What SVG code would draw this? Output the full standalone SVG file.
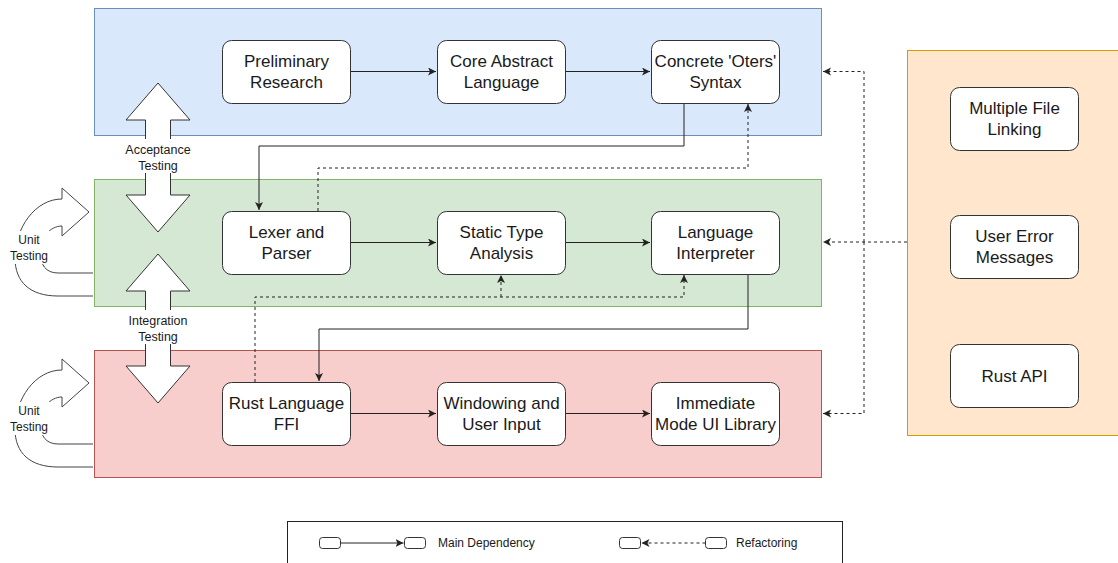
<svg xmlns="http://www.w3.org/2000/svg" width="1118" height="563" viewBox="0 0 1118 563">
<style>
.t{font-family:"Liberation Sans",Arial,sans-serif;fill:#1a1a1a;text-anchor:middle}
.n{font-size:17px}
.s{font-size:12.5px}
.node{fill:#fff;stroke:#333;stroke-width:1}
.e{fill:none;stroke:#222;stroke-width:1}
.d{fill:none;stroke:#222;stroke-width:1;stroke-dasharray:3 3}
.big{fill:#fff;stroke:#333;stroke-width:1}
.bg{fill:#fff}
</style>
<defs>
<marker id="a" markerUnits="userSpaceOnUse" markerWidth="10" markerHeight="10" refX="8" refY="4" orient="auto">
<path d="M0,0 L8,4 L0,8 L2,4 z" fill="#222"/>
</marker>
<path id="uturn" d="M93 296 L58 296 C30 296 15 282 15 258 C15 228 35 199 62 199 L62 188 L89 212 L62 236 L62 226 C50 226 40 238 40 251 C40 265 46 273 58 273 L93 273" fill="#fff" stroke="#444" stroke-width="1"/>
</defs>

<g id="lanes">
<rect id="lane-blue" x="94.5" y="8.5" width="727" height="127" fill="#dae8fc" stroke="#6c8ebf"/>
<rect id="lane-green" x="94.5" y="179.5" width="727" height="127" fill="#d5e8d4" stroke="#82b366"/>
<rect id="lane-red" x="94.5" y="350.5" width="727" height="127" fill="#f8cecc" stroke="#b85450"/>
<rect id="lane-orange" x="907.5" y="50.5" width="215" height="385" fill="#ffe6cc" stroke="#d79b00"/>
</g>

<g id="testing">
<g id="unit-green">
<use href="#uturn"/>
<rect class="bg" x="8" y="231" width="42" height="33"/>
<text class="t" x="29" y="244" font-size="12">Unit</text>
<text class="t" x="29" y="260" font-size="12">Testing</text>
</g>
<g id="unit-red" transform="translate(0,171)">
<use href="#uturn"/>
<rect class="bg" x="8" y="231" width="42" height="33"/>
<text class="t" x="29" y="244" font-size="12">Unit</text>
<text class="t" x="29" y="260" font-size="12">Testing</text>
</g>
<g id="acceptance">
<path class="big" d="M158 83 L190 120 L170.5 120 L170.5 195 L190 195 L158 232 L126 195 L145.5 195 L145.5 120 L126 120 Z"/>
<rect class="bg" x="122" y="139" width="72" height="34"/>
<text class="t s" x="158" y="153.5">Acceptance</text>
<text class="t s" x="158" y="169.5">Testing</text>
</g>
<g id="integration">
<path class="big" d="M158 254 L190 291 L170.5 291 L170.5 366 L190 366 L158 403 L126 366 L145.5 366 L145.5 291 L126 291 Z"/>
<rect class="bg" x="122" y="310" width="72" height="34"/>
<text class="t s" x="158" y="324.5">Integration</text>
<text class="t s" x="158" y="340.5">Testing</text>
</g>
</g>

<g id="connectors">
<path class="e" d="M350 71.5 H436" marker-end="url(#a)"/>
<path class="e" d="M565 71.5 H650" marker-end="url(#a)"/>
<path class="e" d="M684 103 V146 H259 V210" marker-end="url(#a)"/>
<path class="d" d="M318 211 V168 H748 V104" marker-end="url(#a)"/>
<path class="e" d="M350 242.5 H436" marker-end="url(#a)"/>
<path class="e" d="M565 242.5 H650" marker-end="url(#a)"/>
<path class="e" d="M748 274 V329 H319 V381" marker-end="url(#a)"/>
<path class="d" d="M255 382 V297 H684 V275" marker-end="url(#a)"/>
<path class="d" d="M501 297 V275" marker-end="url(#a)"/>
<path class="e" d="M350 413.5 H436" marker-end="url(#a)"/>
<path class="e" d="M565 413.5 H650" marker-end="url(#a)"/>
<path class="d" d="M907 242 H823" marker-end="url(#a)"/>
<path class="d" d="M864 242 V71.5 H823" marker-end="url(#a)"/>
<path class="d" d="M864 242 V413.5 H823" marker-end="url(#a)"/>
</g>

<g id="n-prelim"><rect class="node" x="222.5" y="40.5" width="128" height="63" rx="9"/><text class="t n" x="286.5" y="67">Preliminary</text><text class="t n" x="286.5" y="88">Research</text></g>
<g id="n-core"><rect class="node" x="437.5" y="40.5" width="128" height="63" rx="9"/><text class="t n" x="501.5" y="67">Core Abstract</text><text class="t n" x="501.5" y="88">Language</text></g>
<g id="n-concrete"><rect class="node" x="651.5" y="40.5" width="128" height="63" rx="9"/><text class="t n" x="715.5" y="67">Concrete 'Oters'</text><text class="t n" x="715.5" y="88">Syntax</text></g>

<g id="n-lexer"><rect class="node" x="222.5" y="211.5" width="128" height="63" rx="9"/><text class="t n" x="286.5" y="238">Lexer and</text><text class="t n" x="286.5" y="259">Parser</text></g>
<g id="n-static"><rect class="node" x="437.5" y="211.5" width="128" height="63" rx="9"/><text class="t n" x="501.5" y="238">Static Type</text><text class="t n" x="501.5" y="259">Analysis</text></g>
<g id="n-interp"><rect class="node" x="651.5" y="211.5" width="128" height="63" rx="9"/><text class="t n" x="715.5" y="238">Language</text><text class="t n" x="715.5" y="259">Interpreter</text></g>

<g id="n-ffi"><rect class="node" x="222.5" y="382.5" width="128" height="63" rx="9"/><text class="t n" x="286.5" y="409">Rust Language</text><text class="t n" x="286.5" y="430">FFI</text></g>
<g id="n-window"><rect class="node" x="437.5" y="382.5" width="128" height="63" rx="9"/><text class="t n" x="501.5" y="409">Windowing and</text><text class="t n" x="501.5" y="430">User Input</text></g>
<g id="n-imgui"><rect class="node" x="651.5" y="382.5" width="128" height="63" rx="9"/><text class="t n" x="715.5" y="409">Immediate</text><text class="t n" x="715.5" y="430">Mode UI Library</text></g>

<g id="n-multi"><rect class="node" x="950.5" y="87.5" width="128" height="63" rx="9"/><text class="t n" x="1014.5" y="114">Multiple File</text><text class="t n" x="1014.5" y="135">Linking</text></g>
<g id="n-usererr"><rect class="node" x="950.5" y="215.5" width="128" height="63" rx="9"/><text class="t n" x="1014.5" y="242">User Error</text><text class="t n" x="1014.5" y="263">Messages</text></g>
<g id="n-rustapi"><rect class="node" x="950.5" y="344.5" width="128" height="63" rx="9"/><text class="t n" x="1014.5" y="381.5">Rust API</text></g>

<g id="legend">
<rect x="287.5" y="521.5" width="555" height="50" fill="#fff" stroke="#222"/>
<rect class="node" x="319.5" y="537.5" width="21" height="11" rx="3"/>
<rect class="node" x="404.5" y="537.5" width="21" height="11" rx="3"/>
<path class="e" d="M340.5 543 H403.5" marker-end="url(#a)"/>
<text class="t" x="438" y="546.5" font-size="12" style="text-anchor:start">Main Dependency</text>
<rect class="node" x="619.5" y="537.5" width="21" height="11" rx="3"/>
<rect class="node" x="705.5" y="537.5" width="21" height="11" rx="3"/>
<path class="d" d="M705.5 543 H641.5" marker-end="url(#a)"/>
<text class="t" x="736" y="546.5" font-size="12" style="text-anchor:start">Refactoring</text>
</g>
</svg>
